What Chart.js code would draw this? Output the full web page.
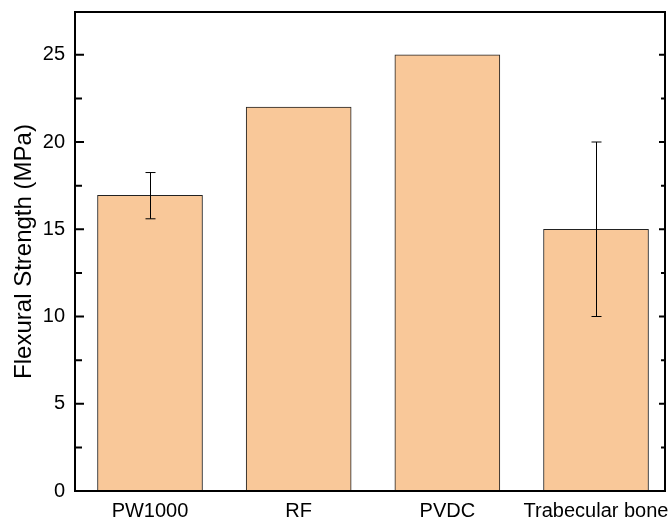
<!DOCTYPE html>
<html>
<head>
<meta charset="utf-8">
<script src="https://cdn.jsdelivr.net/npm/chart.js@4/dist/chart.umd.min.js"></script>
<style>
  html, body { margin: 0; padding: 0; background: #fff; }
  #wrap { width: 672px; height: 519px; }
</style>
</head>
<body>
<div id="wrap"><canvas id="chart"></canvas></div>
<script>
const categories = ['PW1000', 'RF', 'PVDC', 'Trabecular bone'];
const strength = [16.95, 22, 25, 15];
const errPlus = [1.3, 0, 0, 5];
const errMinus = [1.35, 0, 0, 5];
const yTicks = [0, 5, 10, 15, 20, 25];

const font = 'Liberation Sans, Arial, sans-serif';

// frame, inward ticks and error bars
const extras = {
    id: 'extras',
    afterDatasetsDraw(chart) {
        const ctx = chart.ctx;
        const area = chart.chartArea;
        const x = chart.scales.x;
        const y = chart.scales.y;
        ctx.save();
        ctx.strokeStyle = '#000';

        // error bars
        ctx.lineWidth = 1;
        strength.forEach((v, i) => {
            if (!errPlus[i] && !errMinus[i]) return;
            const px = Math.round(x.getPixelForValue(i + 1)) + 0.5;
            const top = y.getPixelForValue(v + errPlus[i]);
            const bot = y.getPixelForValue(v - errMinus[i]);
            ctx.beginPath();
            ctx.moveTo(px, top); ctx.lineTo(px, bot);
            ctx.moveTo(px - 5, top); ctx.lineTo(px + 5, top);
            ctx.moveTo(px - 5, bot); ctx.lineTo(px + 5, bot);
            ctx.stroke();
        });

        // ticks pointing inwards on both sides
        ctx.lineWidth = 2;
        for (let t = 2.5; t < y.max; t += 2.5) {
            const py = y.getPixelForValue(t);
            const major = t % 5 === 0;
            ctx.beginPath();
            ctx.moveTo(area.left, py); ctx.lineTo(area.left + (major ? 9 : 7), py);
            ctx.moveTo(area.right, py); ctx.lineTo(area.right - (major ? 6 : 4), py);
            ctx.stroke();
        }

        // frame
        ctx.strokeRect(area.left, area.top, area.right - area.left, area.bottom - area.top);
        ctx.restore();
    }
};

new Chart(document.getElementById('chart'), {
    type: 'bar',
    data: {
        datasets: [{
            data: strength.map((v, i) => ({ x: i + 1, y: v })),
            backgroundColor: '#F9C899',
            borderColor: '#222',
            borderWidth: 1,
            barThickness: 105
        }]
    },
    options: {
        responsive: true,
        maintainAspectRatio: false,
        animation: false,
        layout: { padding: { top: 12, right: 7, left: 0, bottom: 0 } },
        plugins: { legend: { display: false }, tooltip: { enabled: false } },
        scales: {
            x: {
                type: 'linear',
                offset: false,
                bounds: 'data',
                min: 0.4955,
                max: 4.464,
                grid: { display: false, drawTicks: false },
                border: { display: false },
                afterBuildTicks: s => { s.ticks = categories.map((c, i) => ({ value: i + 1 })); },
                afterFit: s => { s.height = 28; s.paddingLeft = 0; s.paddingRight = 0; },
                ticks: {
                    autoSkip: false,
                    maxRotation: 0,
                    padding: 8,
                    color: '#000',
                    font: { family: font, size: 20 },
                    callback: v => categories[v - 1]
                }
            },
            y: {
                min: 0,
                max: 27.45,
                grid: { display: false, drawTicks: false },
                border: { display: false },
                afterBuildTicks: s => { s.ticks = yTicks.map(v => ({ value: v })); },
                afterFit: s => { s.width = 75; s.paddingTop = 0; s.paddingBottom = 0; },
                title: {
                    display: true,
                    text: 'Flexural Strength (MPa)',
                    color: '#000',
                    font: { family: font, size: 24 },
                    padding: { top: 10, bottom: 4 }
                },
                ticks: {
                    padding: 10,
                    color: '#000',
                    font: { family: font, size: 20 }
                }
            }
        }
    },
    plugins: [extras]
});
</script>
</body>
</html>
